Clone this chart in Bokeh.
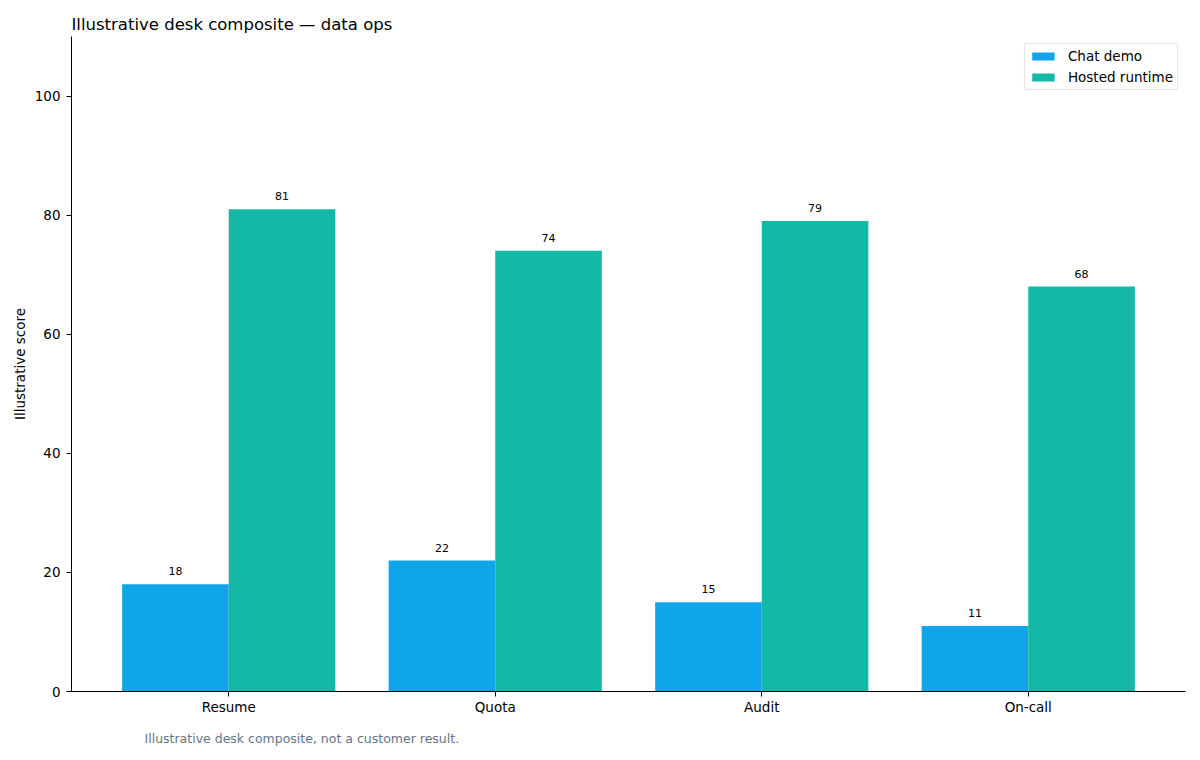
from bokeh.plotting import figure
from bokeh.models import Range1d, FixedTicker, ColumnDataSource, Title, Legend, LegendItem
from bokeh.embed import file_html
from bokeh.resources import INLINE

categories = ["Resume", "Quota", "Audit", "On-call"]
chat_demo = [18, 22, 15, 11]
hosted_runtime = [81, 74, 79, 68]
y_ticks = [0, 20, 40, 60, 80, 100]

FONT = "DejaVu Sans"
BLUE = "#10a5e8"
TEAL = "#14b8a6"

pos = list(range(len(categories)))
w = 0.4
src = ColumnDataSource(dict(
    x_chat=[i - w / 2 for i in pos],
    x_host=[i + w / 2 for i in pos],
    chat=chat_demo,
    host=hosted_runtime,
    chat_lbl=[str(v) for v in chat_demo],
    host_lbl=[str(v) for v in hosted_runtime],
))

p = figure(width=1200, height=760, output_backend="svg", toolbar_location=None,
           x_range=Range1d(-0.59, 3.59), y_range=Range1d(0, 110),
           min_border_left=71, min_border_right=15, min_border_top=36, min_border_bottom=69)

p.title.text = "Illustrative desk composite \u2014 data ops"
p.title.text_font = FONT
p.title.text_font_size = "16.5px"
p.title.text_font_style = "normal"
p.title.text_color = "#000000"
p.title.offset = 0
p.title.standoff = 5

r1 = p.vbar(x="x_chat", top="chat", width=w, source=src, fill_color=BLUE, line_color=None)
r2 = p.vbar(x="x_host", top="host", width=w, source=src, fill_color=TEAL, line_color=None)

# value labels above each bar
for xcol, ycol, lcol in (("x_chat", "chat", "chat_lbl"), ("x_host", "host", "host_lbl")):
    p.text(x=xcol, y=ycol, text=lcol, source=src, text_align="center",
           text_baseline="alphabetic", y_offset=-13, text_font_size="11px",
           text_font={"value": FONT}, text_color="#000000")

p.xaxis.ticker = FixedTicker(ticks=pos)
p.xaxis.major_label_overrides = {i: c for i, c in enumerate(categories)}
p.yaxis.ticker = FixedTicker(ticks=y_ticks)
p.yaxis.axis_label = "Illustrative score"
for ax in (p.xaxis, p.yaxis):
    ax.major_label_text_font = FONT
    ax.major_label_text_font_size = "13.5px"
    ax.major_label_text_color = "#000000"
    ax.axis_line_color = "#000000"
    ax.major_tick_line_color = "#000000"
    ax.major_tick_out = 5
    ax.major_tick_in = 0
    ax.minor_tick_line_color = None
    ax.axis_label_text_font = FONT
    ax.axis_label_text_font_size = "13.5px"
    ax.axis_label_text_font_style = "normal"
    ax.axis_label_text_color = "#000000"
p.yaxis.axis_label_standoff = 4
p.xaxis.major_label_standoff = 2
p.yaxis.major_label_standoff = 6

p.xgrid.grid_line_color = None
p.ygrid.grid_line_color = None
p.outline_line_color = None

legend = Legend(items=[LegendItem(label="Chat demo", renderers=[r1]),
                       LegendItem(label="Hosted runtime", renderers=[r2])],
                location="top_right")
legend.label_text_font = FONT
legend.label_text_font_size = "13.5px"
legend.label_text_color = "#000000"
legend.glyph_width = 28
legend.glyph_height = 10
legend.label_height = 16
legend.label_standoff = 11
legend.spacing = 5
legend.padding = 4
legend.margin = 7
legend.border_line_color = "#cccccc"
legend.border_radius = 3
legend.background_fill_alpha = 0.9
p.add_layout(legend)

note = Title(text="Illustrative desk composite, not a customer result.", align="left",
             offset=73, text_font=FONT, text_font_size="12.5px", text_font_style="normal",
             text_color="#64748b", standoff=22)
p.add_layout(note, "below")

open("out.html", "w").write(file_html(p, INLINE))
